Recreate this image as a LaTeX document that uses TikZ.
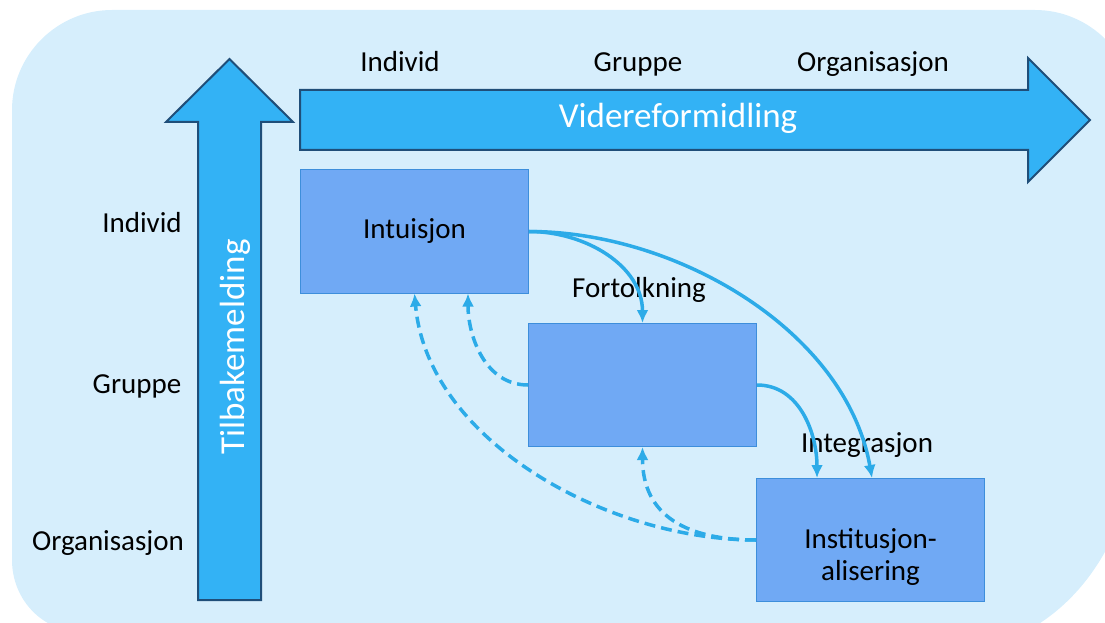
\documentclass[tikz,border=0pt]{standalone}
\usepackage{fontspec}
\setmainfont{Carlito}
\usetikzlibrary{arrows.meta}
\definecolor{bgblue}{RGB}{214,238,252}
\definecolor{arrowfill}{RGB}{51,178,245}
\definecolor{arrowline}{RGB}{31,78,121}
\definecolor{boxfill}{RGB}{112,169,244}
\definecolor{boxline}{RGB}{61,142,219}
\definecolor{flowcol}{RGB}{44,171,232}
\begin{document}
\begin{tikzpicture}[x=1pt,y=1pt,
  lbl/.style={font=\fontsize{29}{32}\selectfont, inner sep=0pt, anchor=base},
  biglbl/.style={font=\fontsize{35}{40}\selectfont, inner sep=0pt, anchor=base, white},
  bigarrow/.style={fill=arrowfill, draw=arrowline, line width=2pt},
  box/.style={draw=boxline, fill=boxfill, line width=1pt, minimum width=228pt,
    minimum height=123pt, inner sep=0pt, font=\fontsize{29}{32}\selectfont},
  flow/.style={draw=flowcol, line width=3.5pt, -{Latex[length=13pt,width=12pt]}},
  feedback/.style={flow, dash pattern=on 11pt off 6pt}]
\useasboundingbox (0,0) rectangle (1105,622);
\begin{scope}
\clip (0,0) rectangle (1105,622);
\fill[bgblue] (12,512) .. controls (12,567) and (57,612) .. (112,612) -- (1035,612)
  .. controls (1090,612) and (1135,567) .. (1135,512) -- (1135,152)
  .. controls (1120,82) and (1085,22) .. (1025,-10) -- (82,-10)
  .. controls (43,-10) and (12,22) .. (12,62) -- cycle;
\end{scope}
\draw[bigarrow] (198,22) -- (198,500) -- (166,500) -- (229.5,563) -- (293,500) -- (261,500) -- (261,22) -- cycle;
\draw[bigarrow] (300,532) -- (1028,532) -- (1028,564) -- (1090,502) -- (1028,440) -- (1028,472) -- (300,472) -- cycle;
\node[biglbl] (videre) at (678,494) {Videreformidling};
\node[biglbl, rotate=90] (tilbake) at (244,275) {Tilbakemelding};
\node[lbl] (hind) at (400,550) {Individ};
\node[lbl] (hgrp) at (638,550) {Gruppe};
\node[lbl] (horg) at (873,550) {Organisasjon};
\node[lbl] (vind) at (142,389) {Individ};
\node[lbl] (vgrp) at (137,229) {Gruppe};
\node[lbl] (vorg) at (108,72) {Organisasjon};
\node[box] (intu) at (414.5,390.5) {Intuisjon};
\node[box] (fort) at (642.5,237) {};
\node[box] (inst) at (870.5,82) {\raisebox{-18pt}[\height][\depth]{\begin{tabular}{@{}c@{}}Institusjon-\\alisering\end{tabular}}};
\node[lbl] (fortlbl) at (639,325) {Fortolkning};
\node[lbl] (integ) at (867,170) {Integrasjon};
\draw[flow] (intu.east) to[out=0,in=90] (fort.north);
\draw[flow] (intu.east) to[out=0,in=100,looseness=0.9] ([xshift=1.5pt]inst.north);
\draw[flow] (fort.east) to[out=0,in=90] ([xshift=-53.5pt]inst.north);
\draw[feedback] (fort.west) to[out=180,in=-90] ([xshift=53.5pt]intu.south);
\draw[feedback] (inst.west) to[out=180,in=-85,looseness=0.9] (intu.south);
\draw[feedback] (inst.west) to[out=180,in=-90,looseness=1.2] (fort.south);
\end{tikzpicture}
\end{document}
